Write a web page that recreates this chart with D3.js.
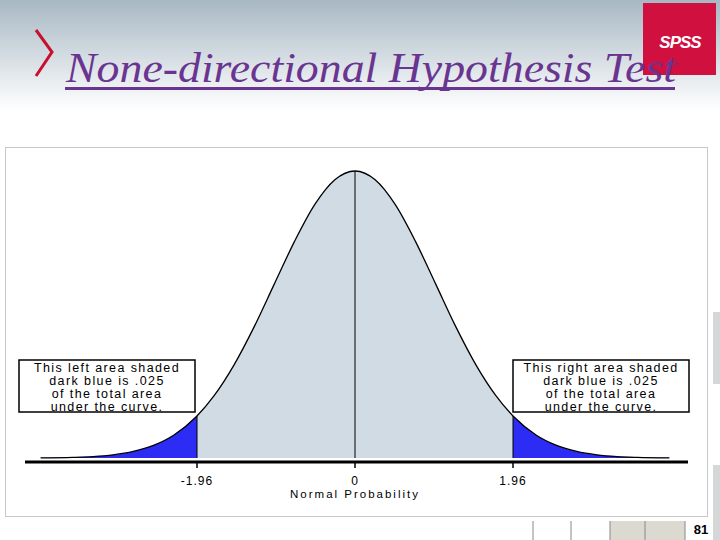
<!DOCTYPE html>
<html><head><meta charset="utf-8">
<script src="https://cdn.jsdelivr.net/npm/d3@7"></script>
<style>body{margin:0;background:#fff}svg{display:block}</style>
</head><body>
<svg id="chart" width="720" height="540"></svg>
<script>
// standard normal density, read at z steps
const zVals = [-3.9,-3.5,-3.25,-3,-2.75,-2.5,-2.25,-1.96,-1.75,-1.5,-1.25,-1,-0.75,-0.5,-0.25,0,0.25,0.5,0.75,1,1.25,1.5,1.75,1.96,2.25,2.5,2.75,3,3.25,3.5,3.9];
const dens = [0.0002,0.0009,0.002,0.0044,0.0091,0.0175,0.0317,0.0584,0.0863,0.1295,0.1826,0.242,0.3011,0.3521,0.3867,0.3989,0.3867,0.3521,0.3011,0.242,0.1826,0.1295,0.0863,0.0584,0.0317,0.0175,0.0091,0.0044,0.002,0.0009,0.0002];
const tickVals = [-1.96, 0, 1.96];
const tickLabels = ["-1.96", "0", "1.96"];
const critical = 1.96;
const leftNote = ["This left area shaded", "dark blue is .025", "of the total area", "under the curve."];
const rightNote = ["This right area shaded", "dark blue is .025", "of the total area", "under the curve."];

const svg = d3.select("#chart");
const defs = svg.append("defs");
const grad = defs.append("linearGradient").attr("id", "topg").attr("x1", 0).attr("y1", 0).attr("x2", 0).attr("y2", 1);
grad.append("stop").attr("offset", "0%").attr("stop-color", "#a7b8c4");
grad.append("stop").attr("offset", "100%").attr("stop-color", "#ffffff");
svg.append("rect").attr("width", 720).attr("height", 110).attr("fill", "url(#topg)");

// header
svg.append("path").attr("d", "M36,30 L52,52 L36,76").attr("fill", "none")
    .attr("stroke", "#c8102e").attr("stroke-width", 3);
svg.append("rect").attr("x", 643).attr("y", 3).attr("width", 73).attr("height", 72).attr("fill", "#d0103f");
svg.append("text").attr("x", 680).attr("y", 48).attr("text-anchor", "middle")
    .attr("font-family", "Liberation Sans, Arial").attr("font-weight", "bold").attr("font-style", "italic")
    .attr("font-size", 17).attr("fill", "#fff").attr("letter-spacing", -1).text("SPSS");
svg.append("text").attr("x", 66).attr("y", 82)
    .attr("font-family", "Liberation Serif, serif").attr("font-style", "italic")
    .attr("font-size", 42).attr("fill", "#6a3590").attr("textLength", 610).attr("lengthAdjust", "spacingAndGlyphs")
    .text("None-directional Hypothesis Test");
svg.append("rect").attr("x", 65).attr("y", 87).attr("width", 610).attr("height", 3).attr("fill", "#6a3590");

// plot frame
svg.append("rect").attr("x", 5.5).attr("y", 147.5).attr("width", 702).attr("height", 369)
    .attr("fill", "#fff").attr("stroke", "#c8c8c8");

const x = d3.scaleLinear().domain([-1.96, 1.96]).range([197, 513]);
const y = d3.scaleLinear().domain([0, 0.3989]).range([458, 171]);
const pts = zVals.map((z, i) => ({ z, d: dens[i] }));
const area = d3.area().x(d => x(d.z)).y0(y(0)).y1(d => y(d.d)).curve(d3.curveMonotoneX);
const line = d3.line().x(d => x(d.z)).y(d => y(d.d)).curve(d3.curveMonotoneX);

svg.append("path").attr("d", area(pts.filter(p => Math.abs(p.z) <= critical))).attr("fill", "#d0dbe3");
svg.append("path").attr("d", area(pts.filter(p => p.z <= -critical))).attr("fill", "#2c2cf5");
svg.append("path").attr("d", area(pts.filter(p => p.z >= critical))).attr("fill", "#2c2cf5");
svg.append("path").attr("d", line(pts)).attr("fill", "none").attr("stroke", "#000").attr("stroke-width", 1.3);
svg.append("line").attr("x1", x(0)).attr("x2", x(0)).attr("y1", y(0.3989)).attr("y2", y(0)).attr("stroke", "#000");
tickVals.filter(v => v !== 0).forEach(v => {
    svg.append("line").attr("x1", x(v)).attr("x2", x(v)).attr("y1", y(0.0584)).attr("y2", y(0)).attr("stroke", "#000");
});

// axis
const axis = svg.append("g").attr("transform", "translate(0,462)");
axis.append("line").attr("x1", 25).attr("x2", 688).attr("stroke", "#000").attr("stroke-width", 3);
axis.selectAll(".tk").data(tickVals).enter().append("line")
    .attr("x1", d => x(d)).attr("x2", d => x(d)).attr("y1", 0).attr("y2", 6).attr("stroke", "#000").attr("stroke-width", 1.5);
axis.selectAll(".tl").data(tickVals).enter().append("text")
    .attr("x", d => x(d)).attr("y", 23).attr("text-anchor", "middle")
    .attr("font-family", "Liberation Sans, Arial").attr("font-size", 12).attr("letter-spacing", 1)
    .text((d, i) => tickLabels[i]);
axis.append("text").attr("x", x(0)).attr("y", 36).attr("text-anchor", "middle")
    .attr("font-family", "Liberation Sans, Arial").attr("font-size", 11.5).attr("letter-spacing", 2)
    .text("Normal Probability");

function note(x0, lines) {
    const g = svg.append("g");
    g.append("rect").attr("x", x0).attr("y", 360).attr("width", 176).attr("height", 52)
        .attr("fill", "#fff").attr("stroke", "#000").attr("stroke-width", 1.5);
    lines.forEach((t, i) => g.append("text").attr("x", x0 + 88).attr("y", 372 + i * 13)
        .attr("text-anchor", "middle").attr("font-family", "Liberation Sans, Arial")
        .attr("font-size", 12.5).attr("letter-spacing", 1.4).text(t));
}
note(19, leftNote);
note(513, rightNote);

// slide footer bits
svg.append("rect").attr("x", 713).attr("y", 312).attr("width", 7).attr("height", 72).attr("fill", "#d4d6d8");
svg.append("rect").attr("x", 713).attr("y", 465).attr("width", 7).attr("height", 75).attr("fill", "#d4d6d8");
svg.append("rect").attr("x", 610).attr("y", 521).attr("width", 75).attr("height", 19).attr("fill", "#dcdad0");
[533, 571, 610, 645, 685].forEach(v => svg.append("line").attr("x1", v).attr("x2", v).attr("y1", 521).attr("y2", 540).attr("stroke", "#888"));
svg.append("text").attr("x", 701).attr("y", 534).attr("text-anchor", "middle")
    .attr("font-family", "Liberation Sans, Arial").attr("font-size", 13).attr("font-weight", "bold").text("81");
</script>
</body></html>
